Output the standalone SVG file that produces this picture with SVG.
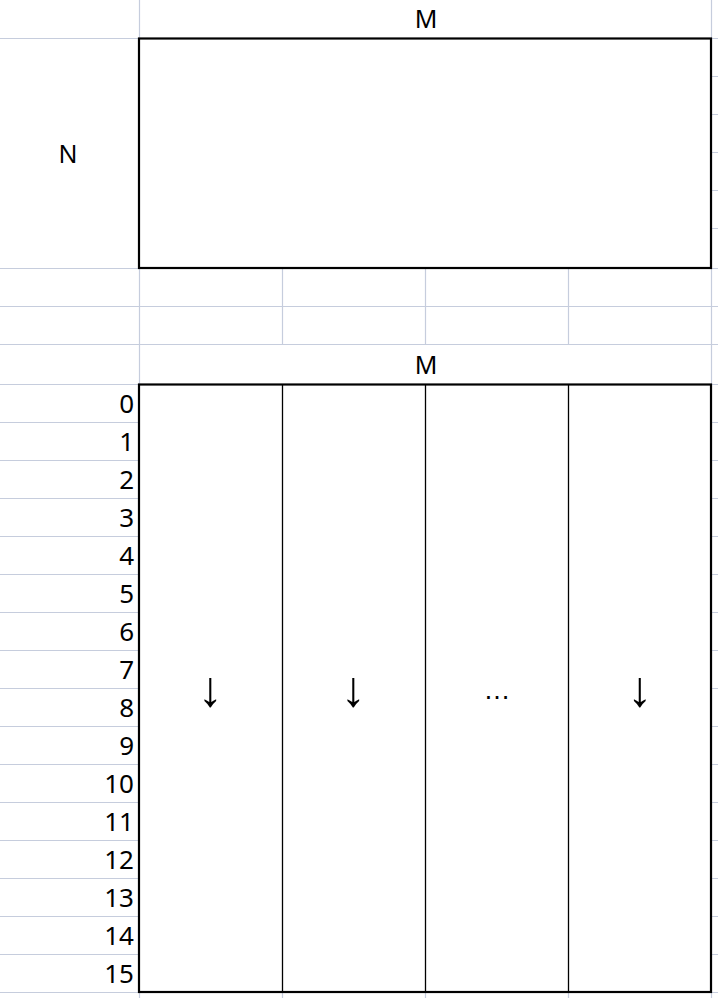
<svg xmlns="http://www.w3.org/2000/svg" width="718" height="998" viewBox="0 0 718 998">
<style>
.g{stroke:#c6cddd;stroke-width:1.2;fill:none}
.t{font-family:"Noto Sans","Open Sans",sans-serif;font-size:25px;fill:#000}
.n{font-family:"Noto Sans","Open Sans",sans-serif;font-size:26px;fill:#000;text-anchor:end}
.a{font-family:"Liberation Sans",sans-serif;font-size:27px;fill:#000;text-anchor:middle}
.ar{font-family:"Liberation Sans",sans-serif;font-size:50px;fill:#000;text-anchor:middle}
.box{fill:#fff;stroke:#000;stroke-width:2.2}
.col{stroke:#000;stroke-width:1.3}
</style>
<rect width="718" height="998" fill="#fff"/>
<g id="grid">
<path class="g" d="M0 38.5H718M0 268.5H718M0 306.5H718M0 344.5H718M0 384.5H718
M0 422.5H718M0 460.5H718M0 498.5H718M0 536.5H718M0 574.5H718M0 612.5H718M0 650.5H718M0 688.5H718M0 726.5H718M0 764.5H718M0 802.5H718M0 840.5H718M0 878.5H718M0 916.5H718M0 954.5H718M0 992.5H718
M711 76.5H718M711 114.5H718M711 152.5H718M711 190.5H718M711 228.5H718
M139.5 0V998M711.5 0V998
M282.5 268V344M425.5 268V344M568.5 268V344
M282.5 990V998M425.5 990V998M568.5 990V998"/>
</g>
<g id="header-top">
<text class="t" x="426" y="28" text-anchor="middle">M</text>
</g>
<g id="matrix-top">
<rect class="box" x="139" y="38.5" width="572" height="229.5"/>
</g>
<g id="label-n">
<text class="t" x="68" y="163" text-anchor="middle">N</text>
</g>
<g id="header-bottom">
<text class="t" x="426" y="374" text-anchor="middle">M</text>
</g>
<g id="matrix-bottom">
<rect class="box" x="139" y="384.5" width="572" height="607.5"/>
<path class="col" d="M282.5 384.5V992M425.5 384.5V992M568.5 384.5V992"/>
</g>
<g id="row-labels">
<text class="n" x="134" y="413">0</text>
<text class="n" x="134" y="451">1</text>
<text class="n" x="134" y="489">2</text>
<text class="n" x="134" y="527">3</text>
<text class="n" x="134" y="565">4</text>
<text class="n" x="134" y="603">5</text>
<text class="n" x="134" y="641">6</text>
<text class="n" x="134" y="679">7</text>
<text class="n" x="134" y="717">8</text>
<text class="n" x="134" y="755">9</text>
<text class="n" x="134" y="793">10</text>
<text class="n" x="134" y="831">11</text>
<text class="n" x="134" y="869">12</text>
<text class="n" x="134" y="907">13</text>
<text class="n" x="134" y="945">14</text>
<text class="n" x="134" y="983">15</text>
</g>
<g id="column-marks">
<text class="ar" x="210.5" y="706">↓</text>
<text class="ar" x="353.5" y="706">↓</text>
<text class="a" x="497" y="699">…</text>
<text class="ar" x="640" y="706">↓</text>
</g>
</svg>
